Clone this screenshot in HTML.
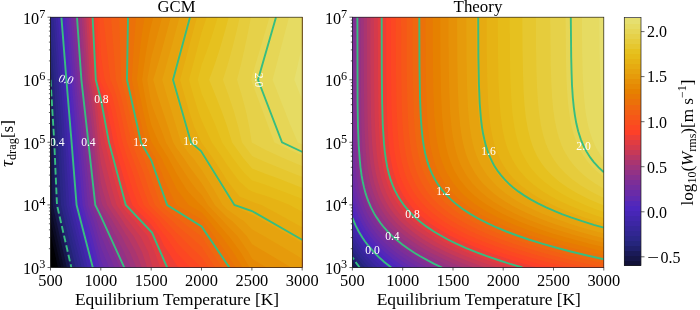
<!DOCTYPE html>
<html><head><meta charset="utf-8"><title>GCM vs Theory</title><style>html,body{margin:0;padding:0;background:#fff}svg{display:block}</style></head><body>
<svg width="700" height="310" viewBox="0 0 700 310" font-family="'Liberation Serif', 'DejaVu Serif', serif" font-size="15.6" fill="#000">
<defs><clipPath id="c1"><rect x="50.5" y="17.2" width="251.7" height="250.3"/></clipPath><clipPath id="c2"><rect x="352.4" y="17.2" width="251.4" height="250.3"/></clipPath></defs>
<rect width="700" height="310" fill="#fff"/>
<g clip-path="url(#c1)" shape-rendering="geometricPrecision">
<rect x="50.5" y="17.2" width="251.7" height="250.3" fill="#000000"/>
<path d="M50.5,267.6 302.5,267.6 302.5,17.2 50.5,17.2Z" fill="#000000"/>
<path d="M50.5,267.6 302.5,267.6 302.5,17.2 50.5,17.2Z" fill="#000000"/>
<path d="M50.5,267.6 302.5,267.6 302.5,17.2 50.5,17.2Z" fill="#000000"/>
<path d="M52,267.6 302.5,267.6 302.5,17.2 50.5,17.2 50.5,260.5Z" fill="#000000"/>
<path d="M55,267.6 302.5,267.6 302.5,17.2 50.5,17.2 50.5,246.8Z" fill="#010104"/>
<path d="M57.9,267.6 302.5,267.6 302.5,17.2 50.5,17.2 50.5,233.4Z" fill="#060614"/>
<path d="M60.9,267.6 302.5,267.6 302.5,17.2 50.5,17.2 50.5,220.3Z" fill="#0b0b24"/>
<path d="M60.3,252 63.8,267.6 302.5,267.6 302.5,17.2 50.5,17.2 50.5,207.6Z" fill="#101034"/>
<path d="M66.8,267.6 302.5,267.6 302.5,17.2 50.5,17.2 50.5,142.8 52.7,205Z" fill="#17174c"/>
<path d="M69.8,267.6 302.5,267.6 302.5,17.2 50.5,17.2 50.5,101 52.9,142.4 55.5,205Z" fill="#1e1e64"/>
<path d="M72.7,267.6 302.5,267.6 302.5,17.2 50.5,17.2 50.5,63.2 55.4,142.4 58.2,205Z" fill="#242478"/>
<path d="M72,252 75.7,267.6 302.5,267.6 302.5,17.2 50.5,17.2 50.5,34.8 52.8,64.2 57.8,142.4 61,205Z" fill="#2a2686"/>
<path d="M74.9,252 78.7,267.6 302.5,267.6 302.5,17.2 51.2,17.2 54.9,64.2 60.3,142.4 63.8,205Z" fill="#2f268e"/>
<path d="M81.7,267.6 302.5,267.6 302.5,17.2 53.4,17.2 57.1,64.2 62.7,142.4 66.5,205 75.7,243.5Z" fill="#352698"/>
<path d="M84.7,267.6 302.5,267.6 302.5,17.2 55.5,17.2 62.9,111.1 65.1,142.4 69.3,205 75.7,231.8Z" fill="#3b26a2"/>
<path d="M87.7,267.6 302.5,267.6 302.5,17.2 57.7,17.2 62.8,79.8 67.5,142.4 72,205Z" fill="#4126ac"/>
<path d="M86.7,252 90.7,267.6 302.5,267.6 302.5,17.2 59.9,17.2 69.9,142.4 74.7,205Z" fill="#4726b6"/>
<path d="M93.7,267.6 302.5,267.6 302.5,17.2 62.1,17.2 68.3,95.4 72.3,142.4 77.4,205 85.7,236.3Z" fill="#4c26be"/>
<path d="M96.7,267.6 302.5,267.6 302.5,17.2 64.3,17.2 70.5,95.4 74.7,142.4 80,205 88.7,236.3Z" fill="#5428b9"/>
<path d="M99.7,267.6 302.5,267.6 302.5,17.2 66.4,17.2 72.7,95.4 77.1,142.4 82.6,205 91.8,236.3Z" fill="#602aaf"/>
<path d="M98.9,252 100.9,260.3 104,267.6 302.5,267.6 302.5,17.2 68.6,17.2 73.5,79.8 85.3,205 88.3,215 90.4,220.7 94.9,236.3Z" fill="#6a2ba7"/>
<path d="M109.2,267.6 302.5,267.6 302.5,17.2 70.8,17.2 75.7,80.8 87.9,205 93.5,220.7 98.1,236.3 100.9,247.8Z" fill="#732d9f"/>
<path d="M107.7,252 114.5,267.6 302.5,267.6 302.5,17.2 73,17.2 77.7,79.8 90.6,205 96.7,220.7 100.9,235.3Z" fill="#7d2e97"/>
<path d="M112.9,252 119.9,267.6 302.5,267.6 302.5,17.2 75.2,17.2 79.7,79.8 91.5,189.4 93.4,205 99.8,220.7 100.9,224.4Z" fill="#87308f"/>
<path d="M125.3,267.6 302.5,267.6 302.5,17.2 77.4,17.2 81.7,79.8 85.4,111.1 94,189.4 96.2,205 100.9,216.3 103.8,220.7 111,236.3 113.5,242.1 118.3,252Z" fill="#933285"/>
<path d="M123.9,252 130.9,267.6 302.5,267.6 302.5,17.2 79.6,17.2 83.8,79.8 87.7,111.1 96.6,189.4 99,205 100.9,209.6 108.1,220.7 113.5,231.9 116.1,236.3Z" fill="#9d347c"/>
<path d="M136.4,267.6 302.5,267.6 302.5,17.2 81.8,17.2 85.8,79.8 90.1,111.1 93.6,142.4 99.2,189.4 100.9,200 102.4,205 112.5,220.7 113.5,222.8 121.6,236.3 126.1,245.4 129.7,252Z" fill="#aa3570"/>
<path d="M135.8,252 138.7,259 141.8,267.6 302.5,267.6 302.5,17.2 83.9,17.2 87.9,79.8 90.4,95.4 92.6,111.1 95.9,142.4 100.9,183.2 102.4,189.4 107.1,205 113.5,215 117.5,220.7 126.1,234.9 127.2,236.3Z" fill="#b73765"/>
<path d="M147.1,267.6 302.5,267.6 302.5,17.2 86.1,17.2 89.9,79.8 92.8,95.4 95.1,111.1 98.3,142.4 100.9,163.8 103.3,173.7 107.2,189.4 111.8,205 122.6,220.7 126.1,226.4 133.7,236.3 142,252Z" fill="#c73957"/>
<path d="M148.2,252 151.3,262.9 152.9,267.6 302.5,267.6 302.5,17.2 88.3,17.2 92,79.8 95.2,95.4 97.5,111.1 100.9,144.2 108,173.7 112,189.4 116.6,205 126.1,218.4 128.2,220.7 138.7,234.4 140.4,236.3Z" fill="#d43a4c"/>
<path d="M160.3,267.6 302.5,267.6 302.5,17.2 90.5,17.2 94,79.8 97.6,95.4 100,111.1 100.9,120 104.9,142.4 113.5,176.6 116.9,189.4 121.5,205 126.1,211.5 134.6,220.7 138.7,226.1 147.8,236.3 151.3,243.9 154.6,252Z" fill="#e13c41"/>
<path d="M161,252 163.9,259.2 168.9,267.6 302.5,267.6 302.5,17.2 92.7,17.2 96.1,79.8 100,95.4 100.9,101.1 103.5,111.1 109.3,142.4 121.9,189.4 126.1,204 126.4,205 138.7,218.4 141,220.7 151.3,232.3 154.2,236.3Z" fill="#ed3e36"/>
<path d="M168.3,252 176.5,265 178.8,267.6 302.5,267.6 302.5,17.2 94.9,17.2 97.2,64.2 98.2,79.8 100.9,90.4 103.5,95.4 107.6,111.1 113.7,142.4 127,189.4 132.3,205 138.7,212 147.7,220.7 151.3,224.7 159.7,236.3 163.9,245.4Z" fill="#fd4028"/>
<path d="M176.1,252 190,267.6 302.5,267.6 302.5,17.2 97.1,17.2 99.3,64.2 100.2,79.8 100.9,82.5 107.7,95.4 111.6,111.1 118.1,142.4 126.1,169.1 132.5,189.4 138.2,205 153.8,220.7 163.9,234.6 165.5,236.3Z" fill="#fc4722"/>
<path d="M185.7,252 189.1,255.8 201.3,267.6 302.5,267.6 302.5,17.2 99.3,17.2 100.9,54.3 102.2,64.2 104.7,79.8 111.9,95.4 115.8,111.1 122.5,142.4 126.1,153.9 133,173.7 138,189.4 143.7,205 159.3,220.7 163.9,227 172.4,236.3 176.5,242.3Z" fill="#f94f1d"/>
<path d="M196.1,252 201.7,257.4 208.3,267.6 302.5,267.6 302.5,17.2 103.2,17.2 105.1,32.8 108.5,64.2 110.3,79.8 113.5,87.3 116.3,95.4 120.2,111.1 126.9,142.4 138.3,173.7 143.5,189.4 149.2,205 163.9,219.8 165,220.7 176.5,233.1 180.3,236.3 189.1,245.5Z" fill="#f65718"/>
<path d="M204.9,252 215.2,267.6 302.5,267.6 302.5,17.2 111,17.2 115.9,79.8 120.8,95.4 131.5,142.4 144,173.7 148.9,189.4 154.9,205 163.9,214 172.2,220.7 176.5,225.3 189.9,236.3 201.7,246.9Z" fill="#f35f14"/>
<path d="M211.6,251.9 222,267.6 302.5,267.6 302.5,17.2 119.1,17.2 121.2,79.8 125.4,95.4 136.1,142.4 138.7,148.8 143.6,158.1 149.6,173.7 151.3,179.1 160.6,205 163.9,208.3 176.5,218 180.7,220.7 189.1,227.4 201.7,236.5Z" fill="#ef670f"/>
<path d="M218.5,251.9 228.9,267.6 302.5,267.6 302.5,17.2 127.4,17.2 126.6,79.8 138.7,133.6 141,142.4 149.5,158.1 155.8,173.7 163.9,197 167.6,205 176.5,211.6 191.4,220.7 201.7,227.8 208,236.3 214.3,246.1Z" fill="#eb7109"/>
<path d="M225.5,252 235.7,267.6 302.5,267.6 302.5,17.2 136,17.2 133.6,48.5 131.8,79.8 138.7,112.9 141.9,126.8 146.2,142.4 151.3,151.5 155.5,158.1 162.1,173.7 163.9,178.7 168.7,189.4 176.4,205 201.7,219.5 202.8,220.7 214.3,236.3Z" fill="#e87904"/>
<path d="M233,252 239.5,262.2 242.6,267.6 302.5,267.6 302.5,17.2 144.6,17.2 142.1,32.8 140.1,48.5 136.9,79.8 139.9,95.4 143.1,111.1 146.8,126.8 151.3,141.8 161.6,158.1 163.9,163.4 169.2,173.7 176.9,189.4 188.6,205 201.7,212.5 209,220.7 214.3,227.8 221.5,236.3Z" fill="#e68100"/>
<path d="M249.5,267.6 302.5,267.6 302.5,17.2 153.3,17.2 151.3,24.9 149.5,32.8 146.6,48.5 144.2,64.2 142.1,79.8 144.8,95.4 147.9,111.1 151.3,125.1 158.7,142.4 168.3,158.1 176.5,173.5 186.5,189.4 189.1,192.7 200.7,205 201.7,205.6 215.4,220.7 226.9,234.1 229,236.3 240.6,252Z" fill="#e68904"/>
<path d="M248.4,252 252.1,258.8 266.5,267.6 302.5,267.6 302.5,17.2 162.1,17.2 153.7,48.5 151.3,56.9 147.2,79.8 149.8,95.4 151.3,103.2 154,111.1 163.9,136.7 165.9,142.4 176.5,160.2 189.1,179.4 196.5,189.4 201.7,195 207.9,205 214.3,212 222.9,220.7 226.9,225.3 237.6,236.3Z" fill="#e69107"/>
<path d="M265.3,252 291.1,267.6 302.5,267.6 302.5,17.2 170.8,17.2 162.3,48.5 157.9,64.2 153.2,79.8 157.6,95.4 173.2,142.4 176.5,147.9 183.7,158.1 189.1,166.2 201.7,183.2 205.6,189.4 214.8,205 226.9,217 231.8,220.7 239.5,228.2 246.9,236.3 252.1,244.3Z" fill="#e69b0b"/>
<path d="M291,251.9 302.5,259 302.5,17.2 179.5,17.2 171,48.5 162.2,79.8 166.7,95.4 181,142.4 189.1,153.7 193.1,158.1 201.7,169.9 213.8,189.4 222.6,205 226.9,209.3 239.5,218.2 243.5,220.7 252.1,229.4 264.7,236.5Z" fill="#e6a30e"/>
<path d="M290.7,236.3 302.5,243.2 302.5,17.2 188.3,17.2 171.2,79.8 189.3,142.4 201.7,155.5 203.5,158.1 222.9,189.4 226.9,197 233.2,205 239.5,209 252.1,214.7 263.6,220.7Z" fill="#e6ab11"/>
<path d="M290.3,220.7 302.5,227.5 302.5,17.2 197,17.2 180.1,79.8 189.1,111.2 194.2,126.8 201.5,142.4 212.8,158.1 222.9,173.7 226.9,180.2 239.5,196.4 252.1,201.8 261.5,205 277.3,213.4Z" fill="#e6b314"/>
<path d="M289.8,205 302.5,211.9 302.5,17.2 206.7,17.2 201.7,32 189,79.8 193.4,95.4 198.1,111.1 201.7,120.8 211.9,142.4 222.7,158.1 226.9,164.6 233.6,173.7 239.5,181.4 248.5,189.4 252.1,191.6 264.7,195.5 277.3,200.1Z" fill="#e6bb18"/>
<path d="M277.8,189.4 302.5,198.9 302.5,17.2 217.7,17.2 212.9,32.8 207.7,48.5 201.7,64.6 197.7,79.8 201.7,93.8 214.3,122.5 222.1,142.4 232.8,158.1 239.5,167.1 245,173.7 252.1,180.4 264.7,184.6Z" fill="#e6c11f"/>
<path d="M265.3,173.7 277.3,178.1 302.5,188 302.5,17.2 228.7,17.2 224.5,32.8 219.9,48.5 214.8,64.2 209.1,79.8 214.3,92.5 221.6,111.1 226.9,125.7 232.1,142.4 243.2,158.1 252.1,168.6Z" fill="#e6c72f"/>
<path d="M294.1,173.7 302.5,177.1 302.5,17.2 239.7,17.2 236.2,32.8 232.2,48.5 227.8,64.2 222.9,79.8 228.6,95.5 233.8,111.1 238.2,126.8 242,142.4 252.1,156 256.4,158.1 264.7,161.7Z" fill="#e6cc3c"/>
<path d="M283.1,158.1 302.5,166.3 302.5,17.2 250.9,17.2 247.9,32.8 244.6,48.5 241,64.2 237,79.8 241.8,95.4 245.9,111.1 249.2,126.8 251.8,142.4 252.1,142.8 264.7,149.5Z" fill="#e6d149"/>
<path d="M274.4,142.4 289.9,149.8 302.5,155.5 302.5,17.2 269.5,17.2 252.1,76 251.3,79.8 252.1,82.9Z" fill="#e6d656"/>
<path d="M297.8,142.4 302.5,144.6 302.5,17.2 289,17.2 272.6,79.8 289.9,124Z" fill="#e6db62"/>
<path d="M300.4,95.4 302.5,100.9 302.5,44.4 294.3,79.8Z" fill="#e6df6f"/>
<path d="M50.5,79.8 54.3,142.4 57,205 71.4,267.6" fill="none" stroke="#37bd80" stroke-width="1.9" stroke-dasharray="6.8,3"/>
<path d="M61.4,17.2 66.4,79.8 71.6,142.4 76.6,205 92.8,267.6" fill="none" stroke="#37bd80" stroke-width="1.9"/>
<path d="M77,17.2 81.4,79.8 88.4,142.4 95.3,205 100.9,216.3 124.3,267.6" fill="none" stroke="#37bd80" stroke-width="1.9"/>
<path d="M92.6,17.2 95.8,79.8 100.9,99.5 109,142.4 125.8,205 152,232.6 167.2,267.6" fill="none" stroke="#37bd80" stroke-width="1.9"/>
<path d="M128,17.2 127,79.8 141,142.4 151.3,160.3 167.2,205 201.6,226.4 229.4,267.6" fill="none" stroke="#37bd80" stroke-width="1.9"/>
<path d="M190,17.2 173,79.8 191,142.4 201,151 234.4,205 252,211 302.5,240" fill="none" stroke="#37bd80" stroke-width="1.9"/>
<path d="M276,17.2 258,79.8 282,142.4 302.5,152" fill="none" stroke="#37bd80" stroke-width="1.9"/>
<text x="66.2" y="83.2" text-anchor="middle" fill="#fff" font-size="11.6" transform="translate(66.2 79.4) rotate(9) skewX(-14) translate(-66.2 -79.4)">0.0</text>
<text x="101.4" y="102.8" text-anchor="middle" fill="#fff" font-size="11.6">0.8</text>
<text x="54" y="145.8" text-anchor="middle" fill="#fff" font-size="11.6">−0.4</text>
<text x="88.4" y="145.8" text-anchor="middle" fill="#fff" font-size="11.6">0.4</text>
<text x="140.4" y="145.8" text-anchor="middle" fill="#fff" font-size="11.6">1.2</text>
<text x="190.6" y="145.4" text-anchor="middle" fill="#fff" font-size="11.6">1.6</text>
<text x="258.8" y="83.8" text-anchor="middle" fill="#fff" font-size="11.6" transform="rotate(90 258.8 80)">2.0</text>
</g>
<g clip-path="url(#c2)">
<rect x="352.4" y="17.2" width="251.4" height="250.3" fill="#000000"/>
<path d="M352.4,17.2 603.8,17.2 603.8,267.5 352.4,267.5Z" fill="#000000"/>
<path d="M352.4,17.2 603.8,17.2 603.8,267.5 352.4,267.5Z" fill="#010104"/>
<path d="M352.4,17.2 603.8,17.2 603.8,267.5 352.4,267.5Z" fill="#04040c"/>
<path d="M352.4,17.2 603.8,17.2 603.8,267.5 352.4,267.5Z" fill="#060614"/>
<path d="M352.4,17.2 603.8,17.2 603.8,267.5 352.4,267.5Z" fill="#08081c"/>
<path d="M352.4,17.2 603.8,17.2 603.8,267.5 352.4,267.5Z" fill="#0b0b24"/>
<path d="M352.4,17.2 603.8,17.2 603.8,267.5 352.4,267.5Z" fill="#111138"/>
<path d="M352.4,17.2 603.8,17.2 603.8,267.5 352.4,267.5Z" fill="#161648"/>
<path d="M352.4,17.2 603.8,17.2 603.8,267.5 354.6,267.5 352.4,264.3Z" fill="#1a1a58"/>
<path d="M352.4,17.2 603.8,17.2 603.8,267.5 357.8,267.5 352.4,259.8Z" fill="#20206c"/>
<path d="M352.4,17.2 603.8,17.2 603.8,267.5 361.2,267.5 356.4,261.2 352.4,255.1Z" fill="#25257c"/>
<path d="M352.4,17.2 603.8,17.2 603.8,267.5 364.9,267.5 358.4,259.4 355.6,255.5 352.4,250.4Z" fill="#2b2688"/>
<path d="M352.4,17.2 603.8,17.2 603.8,267.5 368.8,267.5 364.4,262.5 360.3,257.5 356.4,251.9 352.4,245.4Z" fill="#312692"/>
<path d="M352.4,17.2 603.8,17.2 603.8,267.5 373,267.5 372.4,266.8 366.4,260.4 360.8,253.5 356.4,247.1 352.4,240.3Z" fill="#36269a"/>
<path d="M352.4,17.2 603.8,17.2 603.8,267.5 377.5,267.5 373.3,263.5 366.4,255.9 361.3,249.5 356.4,242.1 352.4,234.8Z" fill="#3c26a4"/>
<path d="M352.4,17.2 603.8,17.2 603.8,267.5 382.3,267.5 374.3,260.1 368.2,253.5 361.9,245.5 359.2,241.5 356.4,236.8 352.4,229Z" fill="#4126ac"/>
<path d="M352.4,17.2 603.8,17.2 603.8,267.5 387.5,267.5 382.3,263.2 376.1,257.5 372.4,253.6 368.4,249.1 362.4,241.1 358.8,235.5 356.5,231.5 352.4,222.7Z" fill="#4726b6"/>
<path d="M352.4,17.2 603.8,17.2 603.8,267.5 393,267.5 384.3,260.6 376.6,253.5 372.4,249 368.4,244.2 364.8,239.5 362.4,235.9 359.7,231.5 356.5,225.4 354.4,220.8 352.4,215.7Z" fill="#4c26be"/>
<path d="M352.4,17.2 603.8,17.2 603.8,267.5 398.9,267.5 393.3,263.5 388.3,259.6 383.5,255.5 378.3,250.6 374.3,246.5 370.1,241.5 366.4,236.5 362.4,230.4 359.6,225.4 356.7,219.4 354.4,213.6 352.4,207.7Z" fill="#5428b9"/>
<path d="M352.4,17.2 603.8,17.2 603.8,267.5 405.2,267.5 398.3,262.9 392.3,258.5 386.3,253.5 380.3,248 374.3,241.6 370.4,236.7 366.4,231.1 362.4,224.4 358.9,217.4 356.5,211.4 354.4,205.3 352.4,197.9Z" fill="#602aaf"/>
<path d="M352.4,17.2 603.8,17.2 603.8,267.5 411.9,267.5 404.3,262.7 396.3,257.1 389.2,251.5 382.3,245.2 376.3,238.9 370.5,231.5 366.4,225.2 362.4,217.9 358.7,209.4 356.4,202.5 354.4,195.1 352.4,185Z" fill="#6a2ba7"/>
<path d="M352.4,17.2 603.8,17.2 603.8,267.5 419.1,267.5 408.9,261.5 400,255.5 394.7,251.5 390.3,247.9 383.4,241.5 377.8,235.5 372.4,228.5 367.8,221.4 363.6,213.4 360.4,205.5 357.8,197.4 355.5,187.4 353.9,177.4 352.4,164Z" fill="#732d9f"/>
<path d="M352.6,17.2 603.8,17.2 603.8,267.5 426.8,267.5 414.3,260.5 404.3,254.1 398.3,249.8 394.3,246.6 386.3,239.5 380.3,233.1 374.3,225.5 370.4,219.3 366.4,211.8 362.9,203.4 360.4,195.7 358.3,187.4 356.6,177.4 355.3,167.4 354.4,156.4 353.7,143.4 353.3,129.3 352.8,91.3Z" fill="#7d2e97"/>
<path d="M355.2,17.2 603.8,17.2 603.8,267.5 435,267.5 427,263.5 420.2,259.8 414.3,256.3 408.3,252.4 402.3,248.2 396.3,243.6 391.6,239.5 387.4,235.5 381.9,229.5 377.2,223.4 372.4,216 368.9,209.4 365.5,201.4 362.9,193.4 360.9,185.4 359.1,175.4 357.9,165.4 357,155.4 356.3,143.4 355.8,127.3 355.3,89.3Z" fill="#87308f"/>
<path d="M357.9,17.2 603.8,17.2 603.8,267.5 443.8,267.5 435.2,263.5 427.3,259.5 420.1,255.5 412.3,250.6 406.3,246.6 399.6,241.5 394.3,237 388.6,231.5 383.2,225.4 378.3,218.9 374.3,212.5 370.8,205.4 367.6,197.4 365.1,189.4 363.3,181.4 361.6,171.4 360.4,161.4 359.6,151.4 358.9,139.3 358.4,123.3 358,87.3Z" fill="#933285"/>
<path d="M360.7,17.2 603.8,17.2 603.8,267.5 453.1,267.5 443.9,263.5 434.2,258.8 426.2,254.6 417.5,249.5 410.3,244.8 403.1,239.5 396.3,233.7 391.9,229.5 386.4,223.4 381.8,217.4 377.9,211.4 373.8,203.4 370.5,195.4 368,187.4 366.1,179.4 364.4,169.4 363.3,159.4 362.4,149.4 361.8,137.3 361.3,123.3 360.9,85.3Z" fill="#9d347c"/>
<path d="M363.7,17.2 603.8,17.2 603.8,267.5 463,267.5 452.2,263 440.2,257.6 430.2,252.5 422.2,247.9 414.3,242.8 406.3,237 399.6,231.5 393.4,225.4 388.1,219.4 383.7,213.4 380,207.4 376.3,200.2 373.6,193.4 371.1,185.4 369.2,177.4 367.5,167.4 366.4,158 365.5,147.4 364.8,135.3 364.4,121.3 363.9,85.3Z" fill="#aa3570"/>
<path d="M367,17.2 603.8,17.2 603.8,267.5 473.6,267.5 460.1,262.3 449,257.5 438.2,252.3 428.2,246.9 419.3,241.5 410.3,235.1 403.3,229.5 396.3,222.7 390.3,215.8 386.3,210.2 382.3,203.6 379.3,197.4 376.3,189.8 374.3,183.3 372.4,174.8 370.7,165.4 369.5,155.4 368.7,145.4 368.1,133.3 367.6,119.3 367.1,83.3Z" fill="#b73765"/>
<path d="M370.4,17.2 603.8,17.2 603.8,267.5 484.9,267.5 470.1,262.1 458.1,257.3 445.3,251.5 433.6,245.5 423.5,239.5 414.3,233.1 406.3,226.6 402.3,222.9 398.9,219.4 393.7,213.4 389.4,207.4 385.8,201.4 382.9,195.4 380.3,189.2 377.9,181.4 375.9,173.4 374.2,163.4 373,153.4 372.1,143.4 371.5,131.3 371,117.3 370.5,81.3Z" fill="#c73957"/>
<path d="M374,17.2 603.8,17.2 603.8,267.5 496.9,267.5 480.1,261.8 464.1,255.6 450.2,249.5 438.3,243.5 428,237.5 418.2,230.9 413.8,227.5 409,223.4 402.3,216.9 397.6,211.4 393.2,205.4 389.6,199.4 386.3,192.8 383.4,185.4 381,177.4 379.2,169.4 377.8,161.4 376.6,151.4 375.8,141.3 375.1,129.3 374.6,115.3 374.1,81.3Z" fill="#d43a4c"/>
<path d="M377.8,17.2 603.8,17.2 603.8,267.5 509.6,267.5 490.9,261.5 474.1,255.4 458.1,248.8 444.2,242 432.6,235.5 426.4,231.5 422.2,228.6 418.1,225.4 413.3,221.4 409,217.4 405.1,213.4 400.3,207.6 396.3,202 392.5,195.4 389.6,189.4 387.3,183.4 384.9,175.4 383.1,167.4 381.4,157.4 380.5,149.4 379.6,139.3 379,127.3 378.5,113.3 378,79.3Z" fill="#e13c41"/>
<path d="M381.9,17.2 603.8,17.2 603.8,267.5 523.2,267.5 516.2,265.5 496.1,259.2 478.1,252.7 462.1,246.1 448.3,239.5 436.2,232.7 431.1,229.5 425.4,225.4 420.2,221.5 416.2,218.1 412.3,214.3 408.3,210.1 404.3,205.2 400.2,199.4 396.3,192.6 393,185.4 390.3,177.8 388.5,171.4 386.8,163.4 385.5,155.4 384.6,147.4 383.7,137.3 383,125.3 382.6,111.3 382.1,77.3Z" fill="#ed3e36"/>
<path d="M386.2,17.2 603.8,17.2 603.8,267.5 537.5,267.5 523.1,263.5 509.7,259.5 492.1,253.6 476.1,247.6 462.1,241.6 449.7,235.5 438.2,228.8 433.1,225.4 428.2,222 420.2,215.4 416.1,211.4 412.3,207.4 407.5,201.4 403.4,195.4 400.1,189.4 397.4,183.4 395.2,177.4 392.9,169.4 391.2,161.4 389.9,153.4 388.9,145.4 388.1,135.3 387.4,123.3 386.9,109.3 386.4,75.3Z" fill="#fd4028"/>
<path d="M390.9,17.2 603.8,17.2 603.8,267.5 552.8,267.5 538,263.7 524,259.7 512,256.1 500,252.2 486.1,247.1 472.1,241.5 459.2,235.5 447.9,229.5 438.3,223.4 430,217.4 422.2,210.7 419,207.4 415.4,203.4 410.8,197.4 407,191.4 403.9,185.4 401.3,179.4 399.3,173.4 397.1,165.4 395.5,157.4 394.3,149.4 393.4,141.3 392.6,131.3 391.5,107.3 391,73.3Z" fill="#fc4722"/>
<path d="M395.8,17.2 603.8,17.2 603.8,267.5 568.9,267.5 547.9,262.3 530,257.4 512,251.9 496.1,246.5 483,241.5 470.1,235.9 460.1,231 450.1,225.4 440.8,219.4 432.9,213.4 426.2,207.4 420.2,201 415.9,195.4 412,189.4 408.9,183.4 406.3,177.4 404.2,171.4 402,163.4 400.4,155.4 399.2,147.4 398.3,139.3 397.5,129.3 396.5,105.3 396,73.3Z" fill="#f94f1d"/>
<path d="M401,17.2 603.8,17.2 603.8,267.5 586,267.5 567.9,263.3 545.9,257.7 526,252.1 508,246.3 492.1,240.5 480.1,235.6 470.1,231 459.5,225.4 450.2,219.9 443.7,215.4 436,209.4 429.6,203.4 424.3,197.4 420.2,191.9 417.4,187.4 414.2,181.4 411.6,175.4 409.5,169.4 407.3,161.4 405.7,153.4 404.4,145.4 403.5,137.3 402.7,127.3 402.2,117.3 401.7,103.3 401.2,71.3Z" fill="#f65718"/>
<path d="M406.6,17.2 603.8,17.2 603.8,267.4 585.6,263.5 568.6,259.5 552.8,255.5 538.3,251.5 525,247.5 512,243.2 500,238.9 488.1,234.2 478.1,229.7 469.4,225.4 460.1,220.3 452.5,215.4 446.2,210.9 439.6,205.4 433.5,199.4 428.4,193.4 425.6,189.4 421.9,183.4 418.9,177.4 416.5,171.4 414.3,164.5 412.4,157.4 410.9,149.4 409.8,141.3 408.9,133.3 408.2,123.3 407.2,99.3 406.7,67.3Z" fill="#f35f14"/>
<path d="M412.5,17.2 603.8,17.2 603.8,263.5 585.8,259.6 569.9,255.7 553.9,251.6 540,247.7 526.2,243.5 514.2,239.5 503.2,235.5 493.3,231.5 484.1,227.4 474.1,222.5 465.2,217.4 458.1,213 452.2,208.7 445.8,203.4 439.6,197.4 434.5,191.4 431.6,187.4 427.9,181.4 424.9,175.4 422.4,169.4 420.2,162.6 418.4,155.4 416.9,147.4 415.7,139.3 414.9,131.3 414.1,121.3 413.2,99.3 412.7,67.3Z" fill="#ef670f"/>
<path d="M418.8,17.2 603.8,17.2 603.8,259.5 585.8,255.5 569.9,251.6 554.3,247.5 541.9,243.9 528,239.6 516.1,235.5 505.4,231.5 496.1,227.6 487,223.4 478.1,218.9 470.1,214.3 462.6,209.4 456.2,204.6 450.1,199.4 446.1,195.4 440.9,189.4 438,185.4 434.3,179.4 431.3,173.4 428.8,167.4 426.8,161.4 424.7,153.4 423.5,147.4 422.2,138.9 421.4,131.3 420.6,121.3 419.5,97.3 419,67.3Z" fill="#eb7109"/>
<path d="M425.5,17.2 603.8,17.2 603.8,255.5 586.4,251.5 571.9,247.9 555.9,243.6 543.9,240 530,235.6 518.3,231.5 508,227.5 498.7,223.4 490.2,219.4 482.1,215.2 474.1,210.4 466.8,205.4 460.1,200.2 454.9,195.4 450.2,190.3 446.2,185.4 443.5,181.4 440,175.4 437.1,169.4 434.8,163.4 433,157.4 431.5,151.4 429.9,143.4 428.8,135.3 427.9,127.3 427.1,117.3 426.2,95.3 425.7,65.3Z" fill="#e87904"/>
<path d="M432.7,17.2 603.8,17.2 603.8,251.4 575.9,244.6 563.9,241.4 549.9,237.3 537.9,233.5 526.4,229.5 516,225.4 506,221.2 497.9,217.4 488.1,212.3 480.1,207.5 474.2,203.4 468.1,198.7 462.2,193.4 458.1,189.1 453.5,183.4 450.2,178.5 447.2,173.4 444.3,167.4 442,161.4 440.1,155.4 438.2,147.4 437.1,141.3 435.9,133.3 435.1,125.3 434.3,115.3 433.4,93.3 432.9,63.3Z" fill="#e68100"/>
<path d="M440.3,17.2 603.8,17.2 603.8,247.1 588.6,243.5 575.9,240.1 563.9,236.8 551.9,233.2 540.6,229.5 529.5,225.4 519.4,221.4 510,217.3 502,213.4 494.1,209.1 486.1,204.2 479.3,199.4 474.1,195.2 468,189.4 464.1,185.1 459.7,179.4 456.2,173.7 453.8,169.4 452,165.4 449.7,159.4 447.8,153.4 446.2,146.9 444.7,139.3 443.6,131.3 442.7,123.3 441.9,113.3 441,91.3 440.5,63.3Z" fill="#e68904"/>
<path d="M448.4,17.2 603.8,17.2 603.8,242.8 590.5,239.5 575.9,235.5 553.9,228.9 543.8,225.4 533.1,221.4 523.3,217.4 514.5,213.4 506.6,209.4 499.6,205.4 493.2,201.4 487.6,197.4 482.1,192.9 476.2,187.4 472.1,182.9 467.9,177.4 465.3,173.4 462,167.4 460.1,163.4 457.8,157.4 455.9,151.4 454.2,144.2 452.9,137.3 451.7,129.3 450.2,113 449.2,91.3 448.7,63.3Z" fill="#e69107"/>
<path d="M457.1,17.2 603.8,17.2 603.8,238.3 591.8,235.2 578.4,231.5 565.9,227.7 555.9,224.4 547.6,221.4 537.2,217.4 527.9,213.4 519.5,209.4 511.9,205.4 505.2,201.4 499.1,197.4 493.8,193.4 488.1,188.5 483,183.4 479.6,179.4 475.3,173.4 472.1,168.1 469.7,163.4 468,159.4 465.8,153.4 464.1,147.4 462.6,141.3 461.2,133.3 460.1,125.3 458.7,109.3 457.8,87.3 457.3,59.3Z" fill="#e69b0b"/>
<path d="M466.3,17.2 603.8,17.2 603.8,233.6 589.8,229.8 579.9,226.9 569,223.4 557.9,219.6 541.9,213.4 533.1,209.4 525,205.4 517.8,201.4 511.4,197.4 505.7,193.4 500.7,189.4 496.2,185.4 492.1,181.1 487.3,175.4 484.1,170.7 480.9,165.4 478.9,161.4 476.4,155.4 474.4,149.4 472.8,143.4 471.5,137.3 470.4,131.3 469.3,123.3 467.9,107.3 467,85.3 466.5,57.2Z" fill="#e6a30e"/>
<path d="M476.1,17.2 603.8,17.2 603.8,228.7 592.3,225.4 581.9,222.2 573.4,219.4 562.3,215.4 552.2,211.4 545.9,208.7 539,205.4 531.3,201.4 524.5,197.4 518.4,193.4 513,189.4 508.2,185.4 504,181.4 500.4,177.4 497.1,173.4 493.1,167.4 490.1,162 487.9,157.4 486.1,152.9 484.2,147.4 482.6,141.3 481.3,135.3 480.2,129.3 479.2,121.3 477.8,105.3 476.9,85.3 476.4,57.2Z" fill="#e6ab11"/>
<path d="M486.6,17.2 603.8,17.2 603.8,223.6 584.3,217.4 567.9,211.4 558.2,207.4 551.9,204.5 545.6,201.4 538.3,197.4 531.9,193.4 526.1,189.4 521,185.4 516.5,181.4 512.6,177.4 509.2,173.4 506,169.2 502.3,163.4 500,159.1 497.5,153.4 496,149.4 494.1,143.4 492.6,137.3 491.4,131.3 490.4,125.3 489.4,117.3 488.1,101.3 487.3,81.3 486.8,55.2Z" fill="#e6b314"/>
<path d="M497.8,17.2 603.8,17.2 603.8,218 595.8,215.4 584.5,211.4 569.5,205.4 561.9,201.9 555.9,198.9 549.5,195.4 543,191.4 537.3,187.4 534,184.9 529.8,181.4 525.6,177.4 522,173.4 518.7,169.4 515.9,165.4 512.4,159.4 510,154.6 507.9,149.4 506,144 504.7,139.3 503.3,133.3 502.2,127.3 500.4,113.3 499.2,97.3 498.4,79.3 498,53.2Z" fill="#e6bb18"/>
<path d="M509.7,17.2 603.8,17.2 603.8,212 595.8,209.2 586.2,205.4 573.9,200 568.7,197.4 561.4,193.4 551.9,187.4 543.9,181.4 539.5,177.4 535.6,173.4 532.1,169.4 529.1,165.4 526,160.5 523.2,155.4 521.3,151.4 519,145.4 517.7,141.3 516.1,135.3 514.8,129.3 513.8,123.3 512.2,111.3 511.1,95.3 510.3,77.3 509.9,53.2Z" fill="#e6c11f"/>
<path d="M522.3,17.2 603.8,17.2 603.8,205.4 589.6,199.4 577.6,193.4 567.5,187.4 559,181.4 551.9,175.2 548.2,171.4 544.7,167.4 541.7,163.4 539.1,159.4 536.8,155.4 534,149.4 532.4,145.4 530.4,139.3 527.9,129.3 525.8,117.3 524.5,105.3 523.6,91.3 523,73.3 522.5,49.2Z" fill="#e6c72f"/>
<path d="M535.9,17.2 603.8,17.2 603.8,197.8 598.7,195.4 590.9,191.4 580.8,185.4 572.4,179.4 565.5,173.4 559.8,167.4 556.6,163.4 553.8,159.4 551.4,155.4 549.2,151.4 545.8,143.4 543.2,135.3 540.9,125.3 539.1,113.3 537.9,101.3 537,87.3 536.4,69.3 536,47.2Z" fill="#e6cc3c"/>
<path d="M550.2,17.2 603.8,17.2 603.8,188.7 595,183.4 586.6,177.4 579.7,171.4 574,165.4 569.4,159.4 565.7,153.4 563.5,149.4 561.7,145.4 558.8,137.3 556.6,129.3 554.6,119.3 553.2,109.3 552.1,97.3 551.3,83.3 550.8,67.3Z" fill="#e6d149"/>
<path d="M565.6,17.2 603.8,17.2 603.8,177 597.8,172.1 592.8,167.4 587.6,161.4 583.3,155.4 579.8,149.4 577,143.4 574,135.3 571.8,127.3 570.2,119.3 569,111.3 567.9,101.3 567,89.3 566.4,77.3 566,61.3Z" fill="#e6d656"/>
<path d="M581.9,17.2 603.8,17.2 603.8,159.5 600.8,155.4 597.1,149.4 595,145.4 592.4,139.3 590.3,133.3 588.6,127.3 587.2,121.3 585.8,113.3 584.8,105.3 584,97.3 582.8,77.3 582.2,53.2Z" fill="#e6db62"/>
<path d="M599.2,17.2 603.8,17.2 603.8,115.4 602.6,107.3 601.7,99.3 600.9,89.3 600.3,79.3 599.6,53.2Z" fill="#e6df6f"/>
<path d="M359.7,267.5 356.4,263.1 352.4,257.2" fill="none" stroke="#37bd80" stroke-width="1.9" stroke-dasharray="6.8,3"/>
<path d="M391.3,267.5 384.3,262 378.3,256.6 372.4,250.4 368.1,245.5 365.1,241.5 362.4,237.6 358.7,231.5 355.6,225.4 352.4,218" fill="none" stroke="#37bd80" stroke-width="1.9"/>
<path d="M442.1,267.5 434.2,263.8 428.2,260.7 420.2,256.3 414.3,252.7 408.3,248.8 402.3,244.5 396.3,239.6 392.3,236.1 388.3,232.1 384,227.5 380.3,222.8 376.6,217.4 374.1,213.4 371,207.4 368.4,201.4 366.9,197.4 365.6,193.4 364,187.4 362.7,181.4 361.6,175.4 360.5,167.4 359.9,161.4 358.7,145.4 358,127.3 357.6,103.3 357.4,17.2" fill="none" stroke="#37bd80" stroke-width="1.9"/>
<path d="M522.4,267.5 510,263.9 498.1,260 486.1,255.9 476.1,252.2 466.1,248.1 456.2,243.6 447.8,239.5 440.2,235.3 433.8,231.5 426.2,226.4 419.8,221.4 414.3,216.6 409.2,211.4 404.3,205.7 400.3,200 397.5,195.4 394.4,189.4 392.7,185.4 390.5,179.4 388.8,173.4 387.3,167.4 385.9,159.4 384.8,151.4 384,143.4 382.8,125.3 382.1,101.3 381.8,69.3 381.7,17.2" fill="none" stroke="#37bd80" stroke-width="1.9"/>
<path d="M603.8,259.3 587.1,255.5 570.6,251.5 555.5,247.5 541.9,243.6 528.7,239.5 517,235.5 506.3,231.5 496.6,227.5 487.8,223.4 478.1,218.5 470.1,213.9 463.3,209.4 456.2,204.1 450.8,199.4 446.2,194.8 441.5,189.4 438.2,184.8 434.9,179.4 431.8,173.4 429.3,167.4 427.3,161.4 425.2,153.4 423.7,145.4 422.5,137.3 421.7,129.3 420.9,119.3 420,97.3 419.5,67.3 419.3,17.2" fill="none" stroke="#37bd80" stroke-width="1.9"/>
<path d="M603.8,227.7 593.8,224.9 582.8,221.4 570.9,217.4 561.9,214.1 555.3,211.4 546.1,207.4 537.9,203.4 530.5,199.4 524,195.4 518.2,191.4 513.1,187.4 508.5,183.4 504.6,179.4 501.1,175.4 498,171.4 494.1,165.4 492,161.4 489.2,155.4 487.7,151.4 485.8,145.4 484.3,139.3 483,133.3 482,127.3 481,119.3 479.7,103.3 478.9,83.3 478.4,57.2 478.2,17.2" fill="none" stroke="#37bd80" stroke-width="1.9"/>
<path d="M603.8,172.2 598.6,167.4 593.8,162.1 590.2,157.4 586.4,151.4 583.3,145.4 580.8,139.3 578.2,131.3 576.3,123.3 574.9,115.3 573.8,107.3 572.8,97.3 572,85.3 571.6,73.3 571.2,57.2 570.8,17.2" fill="none" stroke="#37bd80" stroke-width="1.9"/>
<text x="372.6" y="253.8" text-anchor="middle" fill="#fff" font-size="11.6">0.0</text>
<text x="392.4" y="239.8" text-anchor="middle" fill="#fff" font-size="11.6">0.4</text>
<text x="412.6" y="218.4" text-anchor="middle" fill="#fff" font-size="11.6">0.8</text>
<text x="443.4" y="194.8" text-anchor="middle" fill="#fff" font-size="11.6">1.2</text>
<text x="488.6" y="155.2" text-anchor="middle" fill="#fff" font-size="11.6">1.6</text>
<text x="583.6" y="149.8" text-anchor="middle" fill="#fff" font-size="11.6">2.0</text>
</g>
<g shape-rendering="crispEdges">
<rect x="624.3" y="260.75" width="16.7" height="5.56" fill="#111138"/>
<rect x="624.3" y="255.70" width="16.7" height="5.56" fill="#161648"/>
<rect x="624.3" y="250.64" width="16.7" height="5.56" fill="#1a1a58"/>
<rect x="624.3" y="245.59" width="16.7" height="5.56" fill="#20206c"/>
<rect x="624.3" y="240.53" width="16.7" height="5.56" fill="#25257c"/>
<rect x="624.3" y="235.47" width="16.7" height="5.56" fill="#2b2688"/>
<rect x="624.3" y="230.42" width="16.7" height="5.56" fill="#312692"/>
<rect x="624.3" y="225.36" width="16.7" height="5.56" fill="#36269a"/>
<rect x="624.3" y="220.31" width="16.7" height="5.56" fill="#3c26a4"/>
<rect x="624.3" y="215.25" width="16.7" height="5.56" fill="#4126ac"/>
<rect x="624.3" y="210.20" width="16.7" height="5.56" fill="#4726b6"/>
<rect x="624.3" y="205.14" width="16.7" height="5.56" fill="#4c26be"/>
<rect x="624.3" y="200.09" width="16.7" height="5.56" fill="#5428b9"/>
<rect x="624.3" y="195.03" width="16.7" height="5.56" fill="#602aaf"/>
<rect x="624.3" y="189.98" width="16.7" height="5.56" fill="#6a2ba7"/>
<rect x="624.3" y="184.92" width="16.7" height="5.56" fill="#732d9f"/>
<rect x="624.3" y="179.86" width="16.7" height="5.56" fill="#7d2e97"/>
<rect x="624.3" y="174.81" width="16.7" height="5.56" fill="#87308f"/>
<rect x="624.3" y="169.75" width="16.7" height="5.56" fill="#933285"/>
<rect x="624.3" y="164.70" width="16.7" height="5.56" fill="#9d347c"/>
<rect x="624.3" y="159.64" width="16.7" height="5.56" fill="#aa3570"/>
<rect x="624.3" y="154.59" width="16.7" height="5.56" fill="#b73765"/>
<rect x="624.3" y="149.53" width="16.7" height="5.56" fill="#c73957"/>
<rect x="624.3" y="144.48" width="16.7" height="5.56" fill="#d43a4c"/>
<rect x="624.3" y="139.42" width="16.7" height="5.56" fill="#e13c41"/>
<rect x="624.3" y="134.36" width="16.7" height="5.56" fill="#ed3e36"/>
<rect x="624.3" y="129.31" width="16.7" height="5.56" fill="#fd4028"/>
<rect x="624.3" y="124.25" width="16.7" height="5.56" fill="#fc4722"/>
<rect x="624.3" y="119.20" width="16.7" height="5.56" fill="#f94f1d"/>
<rect x="624.3" y="114.14" width="16.7" height="5.56" fill="#f65718"/>
<rect x="624.3" y="109.09" width="16.7" height="5.56" fill="#f35f14"/>
<rect x="624.3" y="104.03" width="16.7" height="5.56" fill="#ef670f"/>
<rect x="624.3" y="98.98" width="16.7" height="5.56" fill="#eb7109"/>
<rect x="624.3" y="93.92" width="16.7" height="5.56" fill="#e87904"/>
<rect x="624.3" y="88.87" width="16.7" height="5.56" fill="#e68100"/>
<rect x="624.3" y="83.81" width="16.7" height="5.56" fill="#e68904"/>
<rect x="624.3" y="78.75" width="16.7" height="5.56" fill="#e69107"/>
<rect x="624.3" y="73.70" width="16.7" height="5.56" fill="#e69b0b"/>
<rect x="624.3" y="68.64" width="16.7" height="5.56" fill="#e6a30e"/>
<rect x="624.3" y="63.59" width="16.7" height="5.56" fill="#e6ab11"/>
<rect x="624.3" y="58.53" width="16.7" height="5.56" fill="#e6b314"/>
<rect x="624.3" y="53.48" width="16.7" height="5.56" fill="#e6bb18"/>
<rect x="624.3" y="48.42" width="16.7" height="5.56" fill="#e6c11f"/>
<rect x="624.3" y="43.37" width="16.7" height="5.56" fill="#e6c72f"/>
<rect x="624.3" y="38.31" width="16.7" height="5.56" fill="#e6cc3c"/>
<rect x="624.3" y="33.25" width="16.7" height="5.56" fill="#e6d149"/>
<rect x="624.3" y="28.20" width="16.7" height="5.56" fill="#e6d656"/>
<rect x="624.3" y="23.14" width="16.7" height="5.56" fill="#e6db62"/>
<rect x="624.3" y="18.09" width="16.7" height="5.56" fill="#e6df6f"/>
</g>
<rect x="624.3" y="17.4" width="16.7" height="248.2" fill="none" stroke="#222" stroke-width="0.7"/>
<path d="M641,31.6h3.5" stroke="#222" stroke-width="0.7"/>
<text x="646.9" y="37.4" font-size="16">2.0</text>
<path d="M641,76.6h3.5" stroke="#222" stroke-width="0.7"/>
<text x="646.9" y="82.4" font-size="16">1.5</text>
<path d="M641,121.7h3.5" stroke="#222" stroke-width="0.7"/>
<text x="646.9" y="127.5" font-size="16">1.0</text>
<path d="M641,166.7h3.5" stroke="#222" stroke-width="0.7"/>
<text x="646.9" y="172.5" font-size="16">0.5</text>
<path d="M641,211.8h3.5" stroke="#222" stroke-width="0.7"/>
<text x="646.9" y="217.6" font-size="16">0.0</text>
<path d="M641,256.8h3.5" stroke="#222" stroke-width="0.7"/>
<text x="647.2" y="262.6" font-size="16" textLength="11.8" lengthAdjust="spacingAndGlyphs">−</text><text x="660.4" y="262.6" font-size="16">0.5</text>
<rect x="50.5" y="17.2" width="251.7" height="250.3" fill="none" stroke="#222" stroke-width="0.7"/>
<text x="50.5" y="286.3" text-anchor="middle" font-size="16.4">500</text>
<text x="100.8" y="286.3" text-anchor="middle" font-size="16.4">1000</text>
<text x="151.2" y="286.3" text-anchor="middle" font-size="16.4">1500</text>
<text x="201.5" y="286.3" text-anchor="middle" font-size="16.4">2000</text>
<text x="251.9" y="286.3" text-anchor="middle" font-size="16.4">2500</text>
<text x="302.2" y="286.3" text-anchor="middle" font-size="16.4">3000</text>
<text x="45.3" y="273.8" text-anchor="end" font-size="16.2">10<tspan font-size="12.2" dy="-6">3</tspan></text>
<text x="45.3" y="211.2" text-anchor="end" font-size="16.2">10<tspan font-size="12.2" dy="-6">4</tspan></text>
<text x="45.3" y="148.7" text-anchor="end" font-size="16.2">10<tspan font-size="12.2" dy="-6">5</tspan></text>
<text x="45.3" y="86.1" text-anchor="end" font-size="16.2">10<tspan font-size="12.2" dy="-6">6</tspan></text>
<text x="45.3" y="23.5" text-anchor="end" font-size="16.2">10<tspan font-size="12.2" dy="-6">7</tspan></text>
<path d="M50.5,267.5v3M100.8,267.5v3M151.2,267.5v3M201.5,267.5v3M251.9,267.5v3M302.2,267.5v3M50.5,267.5h-3M50.5,248.7h-1.6M50.5,237.6h-1.6M50.5,229.8h-1.6M50.5,223.8h-1.6M50.5,218.8h-1.6M50.5,214.6h-1.6M50.5,211.0h-1.6M50.5,207.8h-1.6M50.5,204.9h-3M50.5,186.1h-1.6M50.5,175.1h-1.6M50.5,167.3h-1.6M50.5,161.2h-1.6M50.5,156.2h-1.6M50.5,152.0h-1.6M50.5,148.4h-1.6M50.5,145.2h-1.6M50.5,142.3h-3M50.5,123.5h-1.6M50.5,112.5h-1.6M50.5,104.7h-1.6M50.5,98.6h-1.6M50.5,93.7h-1.6M50.5,89.5h-1.6M50.5,85.8h-1.6M50.5,82.6h-1.6M50.5,79.8h-3M50.5,60.9h-1.6M50.5,49.9h-1.6M50.5,42.1h-1.6M50.5,36.0h-1.6M50.5,31.1h-1.6M50.5,26.9h-1.6M50.5,23.3h-1.6M50.5,20.1h-1.6M50.5,17.2h-3" stroke="#222" stroke-width="0.7" fill="none"/>
<text x="177.0" y="305" text-anchor="middle" font-size="17.4">Equilibrium Temperature [K]</text>
<rect x="352.4" y="17.2" width="251.4" height="250.3" fill="none" stroke="#222" stroke-width="0.7"/>
<text x="352.4" y="286.3" text-anchor="middle" font-size="16.4">500</text>
<text x="402.7" y="286.3" text-anchor="middle" font-size="16.4">1000</text>
<text x="453.0" y="286.3" text-anchor="middle" font-size="16.4">1500</text>
<text x="503.2" y="286.3" text-anchor="middle" font-size="16.4">2000</text>
<text x="553.5" y="286.3" text-anchor="middle" font-size="16.4">2500</text>
<text x="603.8" y="286.3" text-anchor="middle" font-size="16.4">3000</text>
<text x="347.2" y="273.8" text-anchor="end" font-size="16.2">10<tspan font-size="12.2" dy="-6">3</tspan></text>
<text x="347.2" y="211.2" text-anchor="end" font-size="16.2">10<tspan font-size="12.2" dy="-6">4</tspan></text>
<text x="347.2" y="148.7" text-anchor="end" font-size="16.2">10<tspan font-size="12.2" dy="-6">5</tspan></text>
<text x="347.2" y="86.1" text-anchor="end" font-size="16.2">10<tspan font-size="12.2" dy="-6">6</tspan></text>
<text x="347.2" y="23.5" text-anchor="end" font-size="16.2">10<tspan font-size="12.2" dy="-6">7</tspan></text>
<path d="M352.4,267.5v3M402.7,267.5v3M453.0,267.5v3M503.2,267.5v3M553.5,267.5v3M603.8,267.5v3M352.4,267.5h-3M352.4,248.7h-1.6M352.4,237.6h-1.6M352.4,229.8h-1.6M352.4,223.8h-1.6M352.4,218.8h-1.6M352.4,214.6h-1.6M352.4,211.0h-1.6M352.4,207.8h-1.6M352.4,204.9h-3M352.4,186.1h-1.6M352.4,175.1h-1.6M352.4,167.3h-1.6M352.4,161.2h-1.6M352.4,156.2h-1.6M352.4,152.0h-1.6M352.4,148.4h-1.6M352.4,145.2h-1.6M352.4,142.3h-3M352.4,123.5h-1.6M352.4,112.5h-1.6M352.4,104.7h-1.6M352.4,98.6h-1.6M352.4,93.7h-1.6M352.4,89.5h-1.6M352.4,85.8h-1.6M352.4,82.6h-1.6M352.4,79.8h-3M352.4,60.9h-1.6M352.4,49.9h-1.6M352.4,42.1h-1.6M352.4,36.0h-1.6M352.4,31.1h-1.6M352.4,26.9h-1.6M352.4,23.3h-1.6M352.4,20.1h-1.6M352.4,17.2h-3" stroke="#222" stroke-width="0.7" fill="none"/>
<text x="478.8" y="305" text-anchor="middle" font-size="17.4">Equilibrium Temperature [K]</text>
<text x="176.5" y="12.3" text-anchor="middle" font-size="16.6">GCM</text>
<text x="478" y="12.3" text-anchor="middle" font-size="16.9">Theory</text>
<text transform="translate(13.2,143.5) rotate(-90)" text-anchor="middle" font-size="17"><tspan font-style="italic" font-size="19">τ</tspan><tspan font-size="12.4" dy="3.2">drag</tspan><tspan dy="-3.2">[s]</tspan></text>
<text transform="translate(692.5,142.5) rotate(-90)" text-anchor="middle" font-size="17.1">log<tspan font-size="12" dy="3.2">10</tspan><tspan dy="-3.2">(</tspan><tspan font-style="italic">W</tspan><tspan font-size="12" dy="3.2">rms</tspan><tspan dy="-3.2">)[m s</tspan><tspan font-size="12" dy="-6.5">−1</tspan><tspan dy="6.5">]</tspan></text>
</svg>
</body></html>
